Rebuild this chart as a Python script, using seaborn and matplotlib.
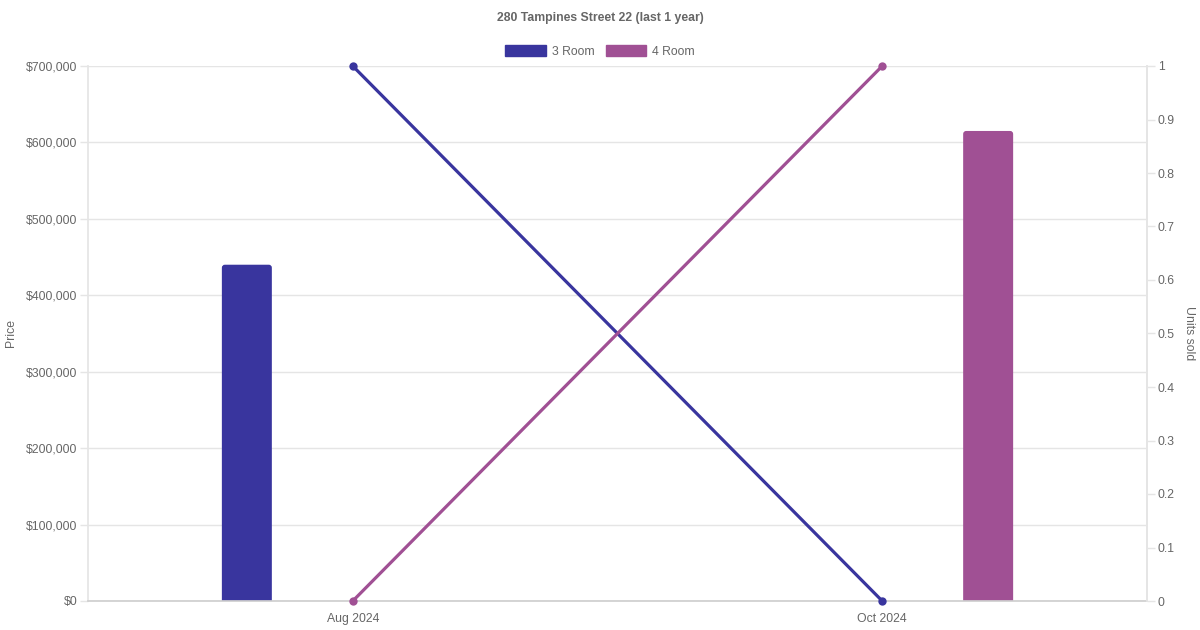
import pandas as pd
import matplotlib.pyplot as plt
import matplotlib.ticker as mticker
from matplotlib.patches import Patch, FancyBboxPatch
import seaborn as sns

# Datos del gráfico
months = ["Aug 2024", "Oct 2024"]
flats = ["3 Room", "4 Room"]
price_3room = [440000, None]
price_4room = [None, 615000]
units_3room = [1, 0]
units_4room = [0, 1]
colors = {"3 Room": "#39359e", "4 Room": "#a05094"}

sns.set_theme(style="white")
plt.rcParams['font.family'] = ['Liberation Sans', 'DejaVu Sans']

grey_txt = "#666666"
grid_col = "#e5e5e5"
fs = 8.8

# Tablas largas para seaborn
price_df = pd.DataFrame({
    "month": months * 2,
    "flat": [flats[0]] * 2 + [flats[1]] * 2,
    "price": price_3room + price_4room,
}).dropna()
units_df = pd.DataFrame({
    "pos": list(range(len(months))) * 2,
    "flat": [flats[0]] * 2 + [flats[1]] * 2,
    "units": units_3room + units_4room,
})

fig = plt.figure(figsize=(12, 6.3), dpi=100)
ax = fig.add_axes([88 / 1200, 1 - 601 / 630, (1147 - 88) / 1200, (601 - 66) / 630])

sns.barplot(data=price_df, x="month", y="price", hue="flat", order=months,
            hue_order=flats, palette=colors, width=0.8, gap=0.764, saturation=1,
            dodge=True, legend=False, ax=ax, linewidth=0)

ax.set_xlim(-0.5, len(months) - 0.5)
ax.set_ylim(0, 700000)

# esquinas redondeadas en las barras
rx = 3 / 529.5
ry = 3 * 700000 / 535
for bar in list(ax.patches):
    x0, w, h = bar.get_x(), bar.get_width(), bar.get_height()
    fc = bar.get_facecolor()
    bar.remove()
    ax.add_patch(FancyBboxPatch((x0, -2 * ry), w, h + 2 * ry,
                                boxstyle=f"round,pad=0,rounding_size={rx}",
                                mutation_aspect=ry / rx, facecolor=fc,
                                linewidth=0, zorder=2))

ax.yaxis.set_major_locator(mticker.MultipleLocator(100000))
ax.yaxis.set_major_formatter(mticker.FuncFormatter(lambda v, p: f"${v:,.0f}"))
ax.grid(axis="y", color=grid_col, linewidth=1, zorder=0)
ax.set_axisbelow(True)
ax.set_xlabel("")
ax.set_ylabel("")
ax.tick_params(axis="y", colors=grid_col, labelcolor=grey_txt, labelsize=fs,
               length=5.8, width=1, pad=2, left=True)
ax.tick_params(axis="x", length=0, labelcolor=grey_txt, labelsize=fs, pad=8.5)
for side in ["left", "right"]:
    ax.spines[side].set_color(grid_col)
ax.spines["top"].set_visible(False)
ax.spines["bottom"].set_color("#cfcfcf")
ax.spines["bottom"].set_zorder(4)

# Eje secundario: unidades vendidas
ax2 = ax.twinx()
sns.lineplot(data=units_df, x="pos", y="units", hue="flat", hue_order=flats,
             palette=colors, marker="o", markersize=6, markeredgewidth=0,
             linewidth=2.3, legend=False, ax=ax2, zorder=3)
ax2.set_xlim(-0.5, len(months) - 0.5)
ax2.set_ylim(0, 1)
ax2.yaxis.set_major_locator(mticker.MultipleLocator(0.1))
ax2.yaxis.set_major_formatter(mticker.FuncFormatter(lambda v, p: f"{v:g}"))
ax2.set_ylabel("")
ax2.tick_params(axis="y", colors=grid_col, labelcolor=grey_txt, labelsize=fs,
                length=5.8, width=1, pad=2, right=True)
for sp in ax2.spines.values():
    sp.set_visible(False)
ax2.spines["right"].set_visible(True)
ax2.spines["right"].set_color(grid_col)
for line in ax2.lines:
    line.set_clip_on(False)

fig.text(11 / 1200, 1 - 333 / 630, "Price", rotation=90, ha="center", va="center",
         fontsize=fs, color=grey_txt)
fig.text(1189 / 1200, 1 - 333 / 630, "Units sold", rotation=270, ha="center",
         va="center", fontsize=fs, color=grey_txt)
fig.text(0.5, 1 - 18 / 630, "280 Tampines Street 22 (last 1 year)", ha="center",
         va="center", fontsize=fs, fontweight="bold", color=grey_txt)

handles = [Patch(facecolor=colors[f], edgecolor=colors[f], label=f) for f in flats]
fig.legend(handles=handles, loc="center", bbox_to_anchor=(0.5, 1 - 51.5 / 630), ncol=2,
           frameon=False, fontsize=fs, labelcolor=grey_txt, handlelength=3.3,
           handleheight=0.97, handletextpad=0.5, columnspacing=0.9)

plt.savefig("out.png", dpi=100)
plt.close()
